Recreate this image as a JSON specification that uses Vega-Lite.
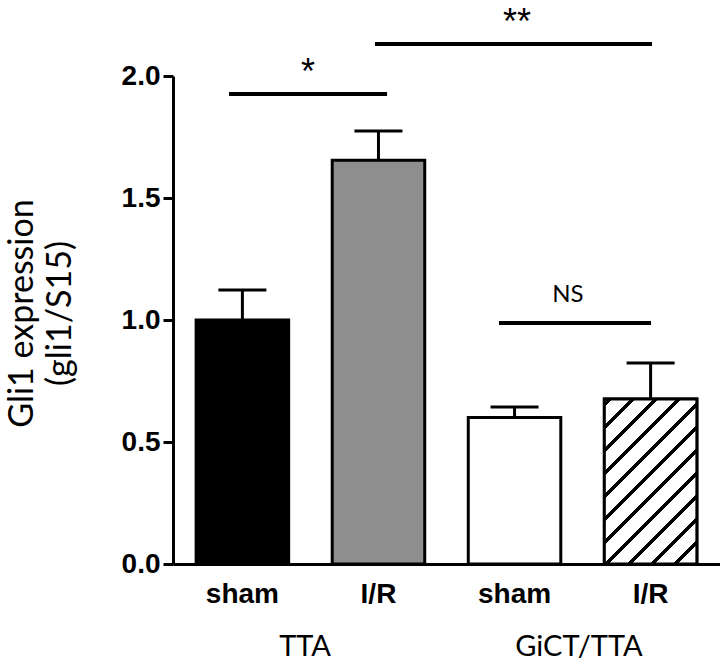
{
  "$schema": "https://vega.github.io/schema/vega-lite/v6.json",
  "width": 547,
  "height": 488,
  "autosize": {"type": "none"},
  "padding": {"left": 173, "top": 76, "right": 0, "bottom": 97},
  "background": "white",
  "config": {"view": {"stroke": null}},
  "datasets": {
    "bars": [
      {"group": "TTA sham", "mean": 1.0, "upper": 1.123},
      {"group": "TTA I/R", "mean": 1.655, "upper": 1.775},
      {"group": "GiCT/TTA sham", "mean": 0.6, "upper": 0.643},
      {"group": "GiCT/TTA I/R", "mean": 0.676, "upper": 0.824}
    ],
    "lines": [
      {"x": 0.412, "x2": 1.574, "y": 1.926},
      {"x": 1.485, "x2": 3.522, "y": 2.131},
      {"x": 2.397, "x2": 3.515, "y": 0.988}
    ],
    "stars": [
      {"x": 0.993, "y": 1.969, "label": "*"},
      {"x": 2.529, "y": 2.174, "label": "**"}
    ],
    "ns": [
      {"x": 2.904, "y": 1.074, "label": "NS"}
    ],
    "groups": [
      {"x": 0.971, "y": -0.377, "label": "TTA"},
      {"x": 2.985, "y": -0.377, "label": "GiCT/TTA"}
    ]
  },
  "layer": [
    {
      "data": {"name": "bars"},
      "encoding": {
        "x": {
          "field": "group", "type": "nominal", "sort": null,
          "scale": {"paddingInner": 0.32, "paddingOuter": 0.17},
          "axis": {
            "title": null, "labelAngle": 0, "ticks": false,
            "domainWidth": 3, "domainColor": "black",
            "labelFont": "Liberation Sans", "labelFontWeight": "bold", "labelFontSize": 28,
            "labelColor": "black", "labelPadding": 16,
            "labelExpr": "split(datum.label, ' ')[1]"
          }
        }
      },
      "layer": [
        {
          "mark": {"type": "bar", "stroke": "black", "strokeWidth": 3},
          "encoding": {
            "y": {
              "field": "mean", "type": "quantitative",
              "scale": {"domain": [0, 2], "nice": false},
              "axis": {
                "values": [0, 0.5, 1, 1.5, 2], "format": ".1f", "grid": false,
                "domainWidth": 3, "domainColor": "black", "tickWidth": 3, "tickSize": 10, "tickColor": "black",
                "labelFont": "Liberation Sans", "labelFontWeight": "bold", "labelFontSize": 28,
                "labelColor": "black", "labelPadding": 3,
                "title": ["Gli1 expression", "(gli1/S15)"],
                "titleFont": "Lato", "titleFontSize": 34, "titleFontWeight": "normal", "titleColor": "black",
                "titleAngle": -90, "titleX": -168, "titleY": 237, "titleAlign": "center",
                "titleBaseline": "top", "titleLineHeight": 38
              }
            },
            "fill": {
              "field": "group", "type": "nominal",
              "scale": {"domain": ["TTA sham", "TTA I/R", "GiCT/TTA sham", "GiCT/TTA I/R"], "range": ["#000000", "#8e8e8e", "#ffffff", "#ffffff"]},
              "legend": null
            }
          }
        },
        {
          "transform": [{"filter": "datum.group == 'GiCT/TTA I/R'"}],
          "mark": {
            "type": "bar", "stroke": "black", "strokeWidth": 3,
            "fill": {
              "gradient": "linear", "x1": 0, "y1": 0, "x2": 0.669, "y2": 1.186,
              "stops": [
                {"offset": 0, "color": "white"},
                {"offset": 0.0136, "color": "white"}, {"offset": 0.0136, "color": "black"}, {"offset": 0.0329, "color": "black"}, {"offset": 0.0329, "color": "white"},
                {"offset": 0.1027, "color": "white"}, {"offset": 0.1027, "color": "black"}, {"offset": 0.1221, "color": "black"}, {"offset": 0.1221, "color": "white"},
                {"offset": 0.1919, "color": "white"}, {"offset": 0.1919, "color": "black"}, {"offset": 0.2112, "color": "black"}, {"offset": 0.2112, "color": "white"},
                {"offset": 0.281, "color": "white"}, {"offset": 0.281, "color": "black"}, {"offset": 0.3004, "color": "black"}, {"offset": 0.3004, "color": "white"},
                {"offset": 0.3702, "color": "white"}, {"offset": 0.3702, "color": "black"}, {"offset": 0.3895, "color": "black"}, {"offset": 0.3895, "color": "white"},
                {"offset": 0.4593, "color": "white"}, {"offset": 0.4593, "color": "black"}, {"offset": 0.4787, "color": "black"}, {"offset": 0.4787, "color": "white"},
                {"offset": 0.5484, "color": "white"}, {"offset": 0.5484, "color": "black"}, {"offset": 0.5678, "color": "black"}, {"offset": 0.5678, "color": "white"},
                {"offset": 0.6376, "color": "white"}, {"offset": 0.6376, "color": "black"}, {"offset": 0.657, "color": "black"}, {"offset": 0.657, "color": "white"},
                {"offset": 0.7267, "color": "white"}, {"offset": 0.7267, "color": "black"}, {"offset": 0.7461, "color": "black"}, {"offset": 0.7461, "color": "white"},
                {"offset": 0.8159, "color": "white"}, {"offset": 0.8159, "color": "black"}, {"offset": 0.8353, "color": "black"}, {"offset": 0.8353, "color": "white"},
                {"offset": 0.905, "color": "white"}, {"offset": 0.905, "color": "black"}, {"offset": 0.9244, "color": "black"}, {"offset": 0.9244, "color": "white"},
                {"offset": 0.9942, "color": "white"}, {"offset": 0.9942, "color": "black"}, {"offset": 1, "color": "black"}
              ]
            }
          },
          "encoding": {
            "y": {"field": "mean", "type": "quantitative", "scale": {"domain": [0, 2], "nice": false}}
          }
        },
        {
          "mark": {"type": "rule", "color": "black", "strokeWidth": 3},
          "encoding": {
            "y": {"field": "mean", "type": "quantitative", "scale": {"domain": [0, 2], "nice": false}},
            "y2": {"field": "upper"}
          }
        },
        {
          "mark": {"type": "tick", "color": "black", "size": 48, "thickness": 3, "opacity": 1},
          "encoding": {
            "y": {"field": "upper", "type": "quantitative", "scale": {"domain": [0, 2], "nice": false}}
          }
        }
      ]
    },
    {
      "layer": [
        {
          "data": {"name": "lines"},
          "mark": {"type": "rule", "color": "black", "strokeWidth": 4},
          "encoding": {
            "x": {"field": "x", "type": "quantitative", "scale": {"domain": [0, 4.022], "nice": false, "zero": false}, "axis": null},
            "x2": {"field": "x2"},
            "y": {"field": "y", "type": "quantitative", "scale": {"domain": [0, 2], "nice": false}, "axis": null}
          }
        },
        {
          "data": {"name": "stars"},
          "mark": {"type": "text", "font": "Liberation Sans", "fontSize": 36, "baseline": "alphabetic", "align": "center", "color": "black"},
          "encoding": {
            "x": {"field": "x", "type": "quantitative", "scale": {"domain": [0, 4.022], "nice": false, "zero": false}, "axis": null},
            "y": {"field": "y", "type": "quantitative", "scale": {"domain": [0, 2], "nice": false}, "axis": null},
            "text": {"field": "label"}
          }
        },
        {
          "data": {"name": "ns"},
          "mark": {"type": "text", "font": "Lato", "fontSize": 24, "baseline": "alphabetic", "align": "center", "color": "black"},
          "encoding": {
            "x": {"field": "x", "type": "quantitative", "scale": {"domain": [0, 4.022], "nice": false, "zero": false}, "axis": null},
            "y": {"field": "y", "type": "quantitative", "scale": {"domain": [0, 2], "nice": false}, "axis": null},
            "text": {"field": "label"}
          }
        },
        {
          "data": {"name": "groups"},
          "mark": {"type": "text", "font": "Lato", "fontSize": 29, "baseline": "alphabetic", "align": "center", "color": "black"},
          "encoding": {
            "x": {"field": "x", "type": "quantitative", "scale": {"domain": [0, 4.022], "nice": false, "zero": false}, "axis": null},
            "y": {"field": "y", "type": "quantitative", "scale": {"domain": [0, 2], "nice": false}, "axis": null},
            "text": {"field": "label"}
          }
        }
      ]
    }
  ],
  "resolve": {"scale": {"x": "independent", "y": "independent"}, "axis": {"x": "independent", "y": "independent"}}
}
